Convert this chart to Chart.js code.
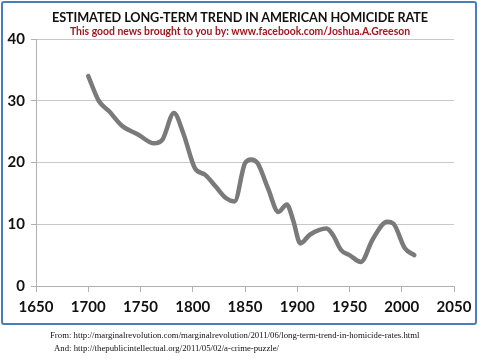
<!DOCTYPE html>
<html>
<head>
<meta charset="utf-8">
<script src="https://cdn.jsdelivr.net/npm/chart.js@4"></script>
<style>
	body { margin: 0; background: #fff; width: 480px; height: 359px; overflow: hidden; position: relative; }
	#frame { position: absolute; left: 1px; top: 1px; width: 472px; height: 320px; border: 2px solid #4a7ebb; border-radius: 3px; }
	#chart { position: absolute; left: 0; top: 0; }
	.t { position: absolute; left: 0; width: 480px; text-align: center; white-space: nowrap; }
	#title { top: 9px; font: bold 12.7px Lato, sans-serif; color: #111; letter-spacing: -0.1px; }
	#sub { top: 25px; font: bold 10.4px Lato, sans-serif; color: #a01820; }
	.src { position: absolute; white-space: nowrap; font: 8.75px "Liberation Serif", serif; color: #111; }
</style>
</head>
<body>
<div id="frame"></div>
<canvas id="chart" width="480" height="359"></canvas>
<div class="t" id="title">ESTIMATED LONG-TERM TREND IN AMERICAN HOMICIDE RATE</div>
<div class="t" id="sub">This good news brought to you by: www.facebook.com/Joshua.A.Greeson</div>
<div class="src" style="left:50px; top:330px;">From: http://marginalrevolution.com/marginalrevolution/2011/06/long-term-trend-in-homicide-rates.html</div>
<div class="src" style="left:54px; top:343px;">And: http://thepublicintellectual.org/2011/05/02/a-crime-puzzle/</div>
<script>
// Homicide rate estimates

const years = [1700, 1710, 1720, 1732, 1748, 1763, 1771, 1782, 1791, 1802, 1812, 1822, 1832, 1840, 1850, 1856, 1862, 1872, 1882, 1890, 1896, 1903, 1912, 1928, 1934, 1942, 1950, 1961, 1972, 1986, 1992, 2003, 2012];
const rates = [34, 30, 28.3, 26, 24.5, 23.1, 23.7, 28, 24.7, 19.1, 18, 16.1, 14.2, 13.7, 19.9, 20.5, 19.9, 15.8, 12, 13.2, 10.7, 6.9, 8.3, 9.3, 8.3, 5.8, 5, 3.9, 7.5, 10.4, 10.1, 6.1, 5];
const xTicks = [1650, 1700, 1750, 1800, 1850, 1900, 1950, 2000, 2050];
const yTicks = [0, 10, 20, 30, 40];

const points = years.map((y, i) => ({ x: y, y: rates[i] }));

new Chart(document.getElementById("chart"), {
	type: "line",
	data: {
		datasets: [
			{
				data: points,
				borderColor: "#7a7a7a",
				borderWidth: 4.5,
				borderCapStyle: "round",
				borderJoinStyle: "round",
				pointRadius: 0,
				tension: 0.4,
				cubicInterpolationMode: "monotone",
			},
		],
	},
	options: {
		responsive: false,
		animation: false,
		devicePixelRatio: 1,
		layout: { padding: { left: 0, right: 26, top: 39, bottom: 0 } },
		plugins: { legend: { display: false }, tooltip: { enabled: false } },
		scales: {
			x: {
				type: "linear",
				min: 1650,
				max: 2050,
				afterBuildTicks: (s) => { s.ticks = xTicks.map((v) => ({ value: v })); },
				afterFit: (s) => { s.height = 73; },
				grid: { drawOnChartArea: false, tickLength: 6, tickColor: "#b0b0b0" },
				border: { color: "#b0b0b0" },
				ticks: {
					color: "#111",
					padding: 6,
					maxRotation: 0,
					callback: (v) => String(v),
					font: { family: "Lato", weight: "bold", size: 15 },
				},
			},
			y: {
				min: 0,
				max: 40,
				afterBuildTicks: (s) => { s.ticks = yTicks.map((v) => ({ value: v })); },
				afterFit: (s) => { s.width = 36; },
				grid: { color: "#c8c8c8", tickLength: 5, tickColor: "#b0b0b0" },
				border: { color: "#b0b0b0" },
				ticks: { color: "#111", padding: 6, font: { family: "Lato", weight: "bold", size: 15 } },
			},
		},
	},
});
</script>
</body>
</html>
